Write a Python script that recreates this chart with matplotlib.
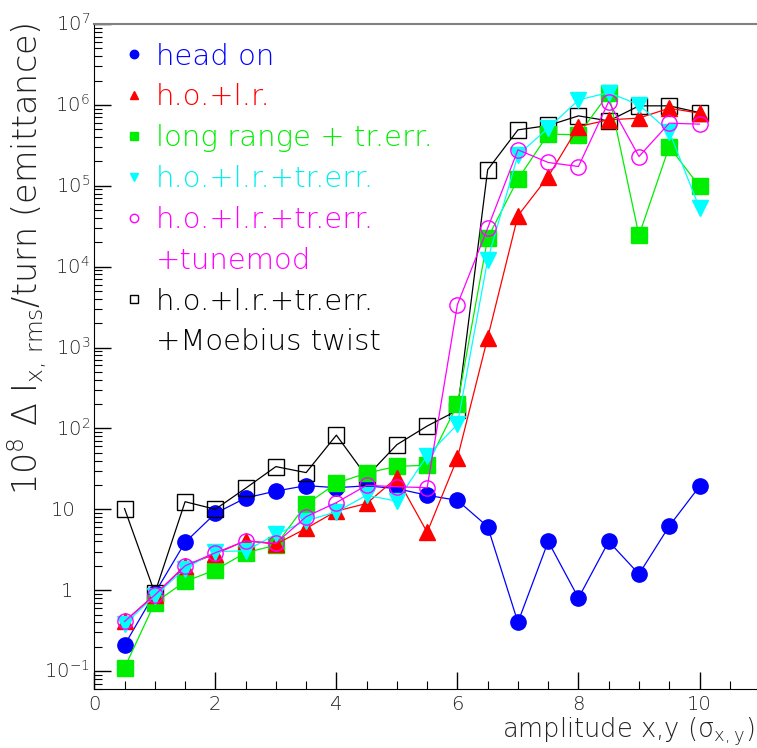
import numpy as np
import matplotlib
matplotlib.use("Agg")
import matplotlib.pyplot as plt
from matplotlib.ticker import LogLocator, MultipleLocator, NullFormatter
from matplotlib.transforms import offset_copy
from matplotlib.lines import Line2D

amplitude = [0.5, 1.0, 1.5, 2.0, 2.5, 3.0, 3.5, 4.0, 4.5, 5.0,
             5.5, 6.0, 6.5, 7.0, 7.5, 8.0, 8.5, 9.0, 9.5, 10.0]

head_on = [0.21, 0.92, 3.9, 8.9, 13.8, 16.8, 19.6, 18.5, 19.5, 18.0,
           14.9, 12.9, 6.1, 0.40, 4.0, 0.80, 4.0, 1.58, 6.2, 19.2]
ho_lr = [0.41, 0.88, 2.0, 2.8, 4.1, 3.7, 5.8, 9.5, 11.8, 24.6,
         5.2, 43, 1320, 42600, 130000, 540000, 653000, 686000, 910000, 789000]
lr_trerr = [0.11, 0.70, 1.28, 1.78, 2.9, 3.6, 11.5, 21, 28, 34,
            35, 198, 22600, 121000, 435000, 427000, 1.39e6, 24300, 305000, 98000]
ho_lr_trerr = [0.38, 0.85, 1.85, 3.0, 3.06, 4.9, 7.2, 9.3, 14.9, 12.6,
               46, 112, 12200, 241000, 515000, 1.15e6, 1.42e6, 1.0e6, 468000, 53000]
tunemod = [0.41, 0.87, 2.0, 2.9, 4.06, 3.8, 8.1, 12.1, 19.8, 19.0,
           18.5, 3400, 30000, 278000, 194000, 173000, 1.1e6, 230000, 594000, 578000]
moebius = [10.2, 0.92, 12.4, 10.0, 18.2, 33.7, 28.4, 82.6, 25.4, 63,
           107, 167, 158000, 491000, 556000, 731000, 634000, 973000, 973000, 803000]

labels = ["head on", "h.o.+l.r.", "long range + tr.err.", "h.o.+l.r.+tr.err.",
          "h.o.+l.r.+tr.err.", "+tunemod", "h.o.+l.r.+tr.err.", "+Moebius twist"]
decades = [-1, 0, 1, 2, 3, 4, 5, 6, 7]

plt.rcParams['font.family'] = ['DejaVu Sans']
plt.rcParams['font.weight'] = 'light'
plt.rcParams['mathtext.fontset'] = 'dejavusans'

W, H = 757, 748
fig = plt.figure(figsize=(W / 100, H / 100), dpi=100)
ax = fig.add_axes([94.3 / W, 1 - 689 / H, 1 - 94.3 / W, (689 - 24) / H])

ms = 11
lw = 0.9
h_blue, = ax.plot(amplitude, head_on, color='#0000ff', marker='o', ms=ms, lw=lw, mec='#0000ff')
h_black, = ax.plot(amplitude, moebius, color='black', marker='s', ms=ms, lw=lw, mfc='none', mew=1.0)
h_green, = ax.plot(amplitude, lr_trerr, color='#00ee00', marker='s', ms=ms, lw=lw)
h_red, = ax.plot(amplitude, ho_lr, color='#ff0000', marker='^', ms=ms, lw=lw)
h_cyan, = ax.plot(amplitude, ho_lr_trerr, color='#00ffff', marker='v', ms=ms, lw=lw)
h_mag, = ax.plot(amplitude, tunemod, color='#ff00ff', marker='o', ms=ms, lw=lw, mfc='none', mew=1.0)

ax.set_yscale('log')
ax.set_xlim(0, 10.95)
ax.set_ylim(10 ** -1.222, 1e7)

ax.yaxis.set_major_locator(LogLocator(base=10, numticks=20))
ax.yaxis.set_minor_locator(LogLocator(base=10, subs=np.arange(2, 10), numticks=20))
ax.yaxis.set_major_formatter(NullFormatter())
ax.yaxis.set_minor_formatter(NullFormatter())
ax.xaxis.set_major_locator(MultipleLocator(2))
ax.xaxis.set_minor_locator(MultipleLocator(0.5))

ax.tick_params(which='both', direction='in', top=False, right=False, labelsize=14, colors='black')
ax.tick_params(which='major', length=12, width=1)
ax.tick_params(which='minor', length=6, width=0.8)
ax.tick_params(axis='x', pad=4.5, labelcolor='#222222')

# y tick labels in ROOT style: base "10" centred on the tick, exponent sticking out
for e in decades:
    if e == 0:
        txt, right = "1", 73
    elif e == 1:
        txt, right = "10", 76
    else:
        txt, right = r"$\mathregular{10^{%d}}$" % e, 90
    tr = offset_copy(ax.get_yaxis_transform(), fig=fig, x=right - 94.3, y=-7, units='dots')
    ax.text(0, 10.0 ** e, txt, transform=tr, ha='right', va='baseline',
            fontsize=14, color='#222222', clip_on=False)

ax.spines['right'].set_visible(False)
ax.spines['top'].set_color('#808080')
ax.spines['top'].set_linewidth(1.5)

blank = Line2D([], [], linestyle='none', marker='none')
handles = [h_blue, h_red, h_green, h_cyan, h_mag, blank, h_black, blank]
text_colors = ['#0000ff', '#ff0000', '#00ee00', '#00eeee', '#ff00ff', '#ff00ff', '#000000', '#000000']
leg = ax.legend(handles, labels, loc='upper left', bbox_to_anchor=(0.029, 0.9895),
                frameon=False, fontsize=21, markerscale=0.55, handlelength=0.6,
                handletextpad=0.45, labelspacing=0.44, borderaxespad=0)
for h in leg.legend_handles:
    h.set_linestyle('none')
for t, c in zip(leg.get_texts(), text_colors):
    t.set_color(c)

fig.text(27 / W, 1 - 22 / H,
         r"10$^{8}$ $\Delta$ I$_{\mathrm{x,\,rms}}$/turn (emittance)",
         rotation=90, ha='center', va='top', fontsize=24, color='#222222')
fig.text(0.996, 1 - 731 / H, r"amplitude x,y (σ$_{\mathrm{x,y}}$)",
         ha='right', va='center', fontsize=18.5, color='#222222')

fig.savefig("out.png", dpi=100)
